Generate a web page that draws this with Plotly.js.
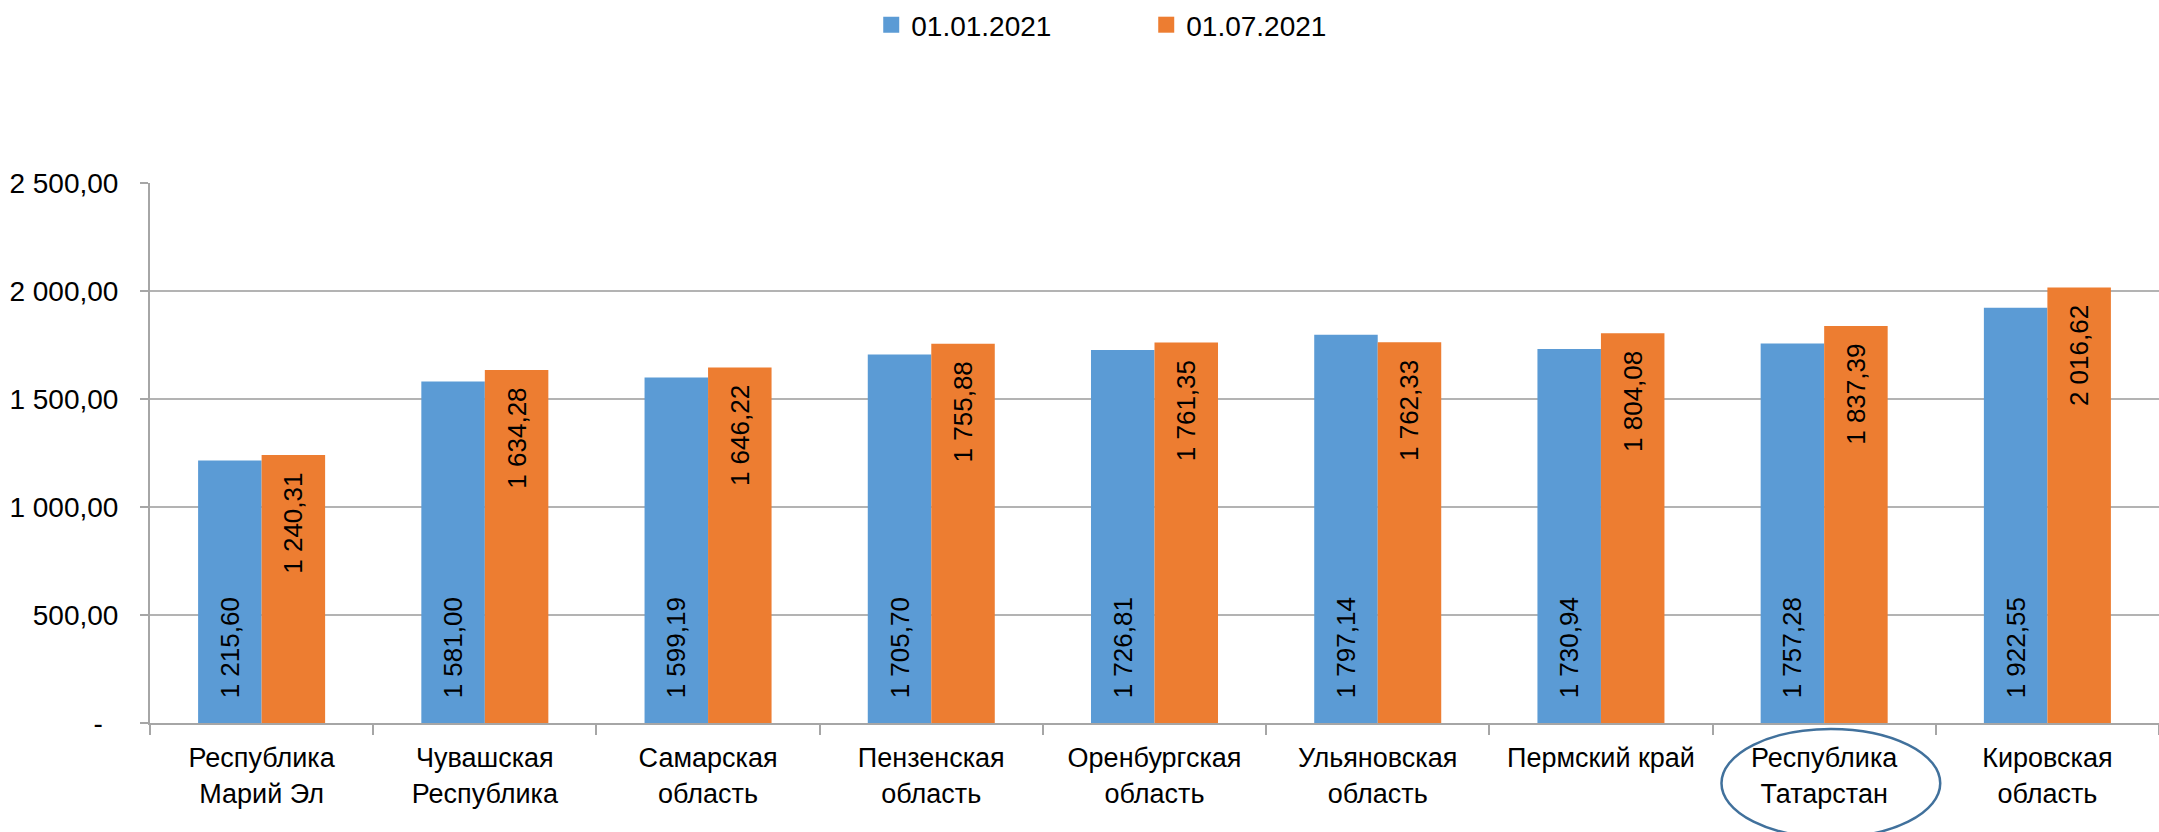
<!DOCTYPE html>
<html>
<head>
<meta charset="utf-8">
<script src="https://cdn.plot.ly/plotly-3.0.1.min.js"></script>
<style>
  html, body { margin: 0; padding: 0; background: #fff; }
  #chart { width: 2159px; height: 832px; }
</style>
</head>
<body>
<div id="chart"></div>
<script>
// regions (x categories)
const REGIONS = [
  "Республика<br>Марий Эл",
  "Чувашская<br>Республика",
  "Самарская<br>область",
  "Пензенская<br>область",
  "Оренбургская<br>область",
  "Ульяновская<br>область",
  "Пермский край",
  "Республика<br>Татарстан",
  "Кировская<br>область"
];

const SERIES_NAMES = ["01.01.2021", "01.07.2021"];
const SERIES_COLORS = ["#5B9BD5", "#ED7D31"];

const VALUES_JAN = [1215.60, 1581.00, 1599.19, 1705.70, 1726.81, 1797.14, 1730.94, 1757.28, 1922.55];
const VALUES_JUL = [1240.31, 1634.28, 1646.22, 1755.88, 1761.35, 1762.33, 1804.08, 1837.39, 2016.62];

const Y_TICKS = [0, 500, 1000, 1500, 2000, 2500];
const Y_TICK_TEXT = ["-\u00A0\u00A0", "500,00", "1 000,00", "1 500,00", "2 000,00", "2 500,00"];

const HIGHLIGHT = 7; // Республика Татарстан

const FONT = "'Liberation Sans', Arial, sans-serif";
const NB = "\u00A0";

function barTrace(i, values, template, anchor) {
  return {
    type: "bar",
    name: SERIES_NAMES[i],
    legendgroup: "s" + i,
    showlegend: false,
    x: REGIONS,
    y: values,
    marker: { color: SERIES_COLORS[i] },
    texttemplate: template,
    textposition: "inside",
    insidetextanchor: anchor,
    textangle: -90,
    constraintext: "none",
    insidetextfont: { family: FONT, size: 26, color: "#000" },
    hoverinfo: "skip"
  };
}

// legend-only entries, so the square swatch can be bigger than the bar icon
function legendTrace(i) {
  return {
    type: "scatter",
    mode: "markers",
    name: SERIES_NAMES[i],
    legendgroup: "s" + i,
    x: [null],
    y: [null],
    marker: { symbol: "square", size: 16, color: SERIES_COLORS[i] },
    hoverinfo: "skip"
  };
}

const traces = [
  barTrace(0, VALUES_JAN, NB + NB + NB + "%{y:,.2f}", "start"),
  barTrace(1, VALUES_JUL, "%{y:,.2f}" + NB + NB, "end"),
  legendTrace(0),
  legendTrace(1)
];

const layout = {
  width: 2159,
  height: 832,
  margin: { l: 150, r: 0, t: 182, b: 109 },
  paper_bgcolor: "#fff",
  plot_bgcolor: "#fff",
  separators: ", ",
  font: { family: FONT, size: 26, color: "#000" },
  barmode: "group",
  bargap: 0.431,
  bargroupgap: 0,
  showlegend: true,
  legend: {
    orientation: "h",
    x: 0.359,
    xanchor: "left",
    y: 1.34,
    yanchor: "top",
    font: { family: FONT, size: 28, color: "#000" },
    itemwidth: 30,
    entrywidth: 230,
    traceorder: "normal"
  },
  xaxis: {
    type: "category",
    showgrid: false,
    showline: true,
    linecolor: "#A6A6A6",
    linewidth: 2,
    ticks: "outside",
    tickson: "boundaries",
    ticklen: 10,
    tickwidth: 2,
    tickcolor: "#A6A6A6",
    tickangle: 0,
    ticklabelstandoff: 10,
    tickfont: { family: FONT, size: 27, color: "#000" },
    fixedrange: true
  },
  yaxis: {
    range: [0, 2500],
    tickvals: Y_TICKS,
    ticktext: Y_TICK_TEXT,
    showgrid: true,
    gridcolor: "#B3B3B3",
    gridwidth: 2,
    showline: true,
    linecolor: "#A6A6A6",
    linewidth: 2,
    ticks: "outside",
    ticklen: 8,
    tickwidth: 2,
    tickcolor: "#A6A6A6",
    ticklabelstandoff: 16,
    zeroline: false,
    tickfont: { family: FONT, size: 28, color: "#000" },
    fixedrange: true
  },
  shapes: [{
    type: "circle",
    xref: "x",
    yref: "paper",
    x0: HIGHLIGHT - 0.46,
    x1: HIGHLIGHT + 0.52,
    y0: -0.011,
    y1: -0.212,
    line: { color: "#41719C", width: 2.5 },
    fillcolor: "rgba(0,0,0,0)"
  }]
};

Plotly.newPlot("chart", traces, layout, { staticPlot: true, displayModeBar: false });
</script>
</body>
</html>
